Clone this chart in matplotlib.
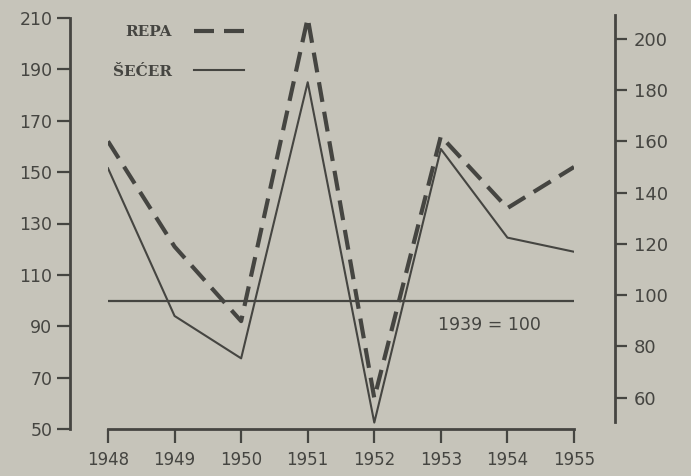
import matplotlib.pyplot as plt

# index values, 1939 = 100
years = [1948, 1949, 1950, 1951, 1952, 1953, 1954, 1955]
repa = [162, 121, 92, 210, 62, 164, 136, 152]
secer = [151.5, 94, 77.5, 185, 52.5, 159, 124.5, 119]
left_ticks = [50, 70, 90, 110, 130, 150, 170, 190, 210]
right_ticks = [60, 80, 100, 120, 140, 160, 180, 200]
base_value = 100
base_label = '1939 = 100'
labels = ['REPA', 'ŠEĆER']

paper = '#c6c4ba'
ink = '#454541'

fig = plt.figure(figsize=(6.91, 4.76), dpi=100, facecolor=paper)
W, H = 691, 476
ax = fig.add_axes([108 / W, (H - 429) / H, (574 - 108) / W, (429 - 18) / H])
ax.set_facecolor('none')

ax.plot(years, repa, color=ink, lw=3.0, dashes=(4.8, 2.4), label=labels[0])
ax.plot(years, secer, color=ink, lw=1.5, label=labels[1])
ax.hlines(base_value, years[0], years[-1], color=ink, lw=1.6)
ax.text(1952.95, 90.5, base_label, color=ink, fontsize=12.5, va='center', ha='left')

ax.set_xlim(years[0], years[-1])
ax.set_ylim(50, 210)
ax.set_xticks(years)
ax.set_yticks(left_ticks)

for s in ['top', 'right']:
    ax.spines[s].set_visible(False)
ax.spines['left'].set_position(('outward', 27))
ax.spines['left'].set_bounds(50, 210)
for s in ['left', 'bottom']:
    ax.spines[s].set_color(ink)
    ax.spines[s].set_linewidth(2)
ax.tick_params(axis='y', direction='out', length=9.5, width=1.6, pad=3.5,
               colors=ink, labelsize=12.5)
ax.tick_params(axis='x', direction='out', length=10, width=1.6, pad=6,
               colors=ink, labelsize=12)

# right-hand scale, slightly offset from the left one
ax2 = ax.twinx()
ax2.set_ylim(47.7, 208.2)
ax2.set_yticks(right_ticks)
for s in ['top', 'left', 'bottom']:
    ax2.spines[s].set_visible(False)
ax2.spines['right'].set_position(('outward', 29.5))
ax2.spines['right'].set_bounds(50.4, 209.4)
ax2.spines['right'].set_color(ink)
ax2.spines['right'].set_linewidth(2)
ax2.tick_params(axis='y', direction='out', length=8.5, width=1.6, pad=5,
                colors=ink, labelsize=13)

leg = ax.legend(loc='upper left', bbox_to_anchor=(-0.015, 1.012), frameon=False,
                markerfirst=False, handlelength=3.3, handletextpad=1.4,
                labelspacing=1.66, borderpad=0.3,
                prop={'family': 'DejaVu Serif', 'weight': 'bold', 'size': 11})
for t in leg.get_texts():
    t.set_color(ink)

fig.savefig('out.png', dpi=100, facecolor=paper)
